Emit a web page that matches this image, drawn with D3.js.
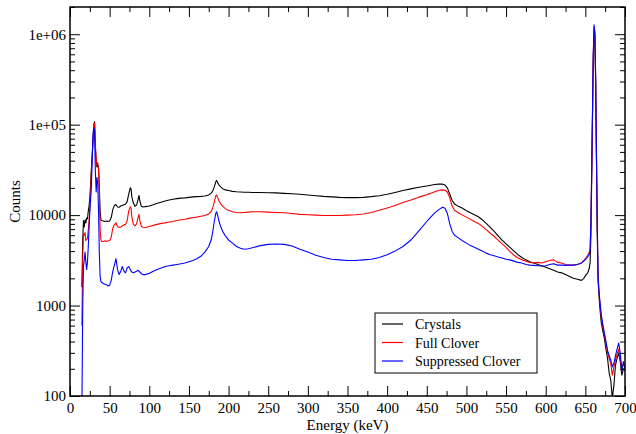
<!DOCTYPE html>
<html>
<head>
<meta charset="utf-8">
<script src="https://cdn.jsdelivr.net/npm/d3@7"></script>
<style>
  html, body { margin: 0; padding: 0; background: #fff; }
  svg { display: block; }
</style>
</head>
<body>
<svg id="chart" width="636" height="434"></svg>
<script>
// Gamma-ray energy spectra (137Cs source): raw crystals, full clover add-back, Compton-suppressed clover
const energy = [
  15,16,17,18,19,20,21,22,23,24,
  25,26,27,28,29,30,31,32,33,34,
  35,36,37,38,39,40,42,44,46,48,
  50,52,54,56,58,60,62,64,66,68,
  70,72,74,76,77,78,80,82,84,86,
  87,88,90,92,95,100,105,110,115,120,
  125,130,135,140,145,150,155,160,165,170,
  175,178,180,182,184,185,186,188,190,193,
  196,200,205,210,215,220,225,230,240,250,
  260,270,280,290,300,310,320,330,340,350,
  360,370,380,390,400,410,420,430,440,450,
  455,460,465,470,473,476,479,482,485,490,
  495,500,505,510,515,520,525,530,535,540,
  545,550,555,560,565,570,575,580,585,590,
  595,600,605,610,615,620,625,630,635,640,
  645,648,651,653,655,656,657,658,659,660,
  661,662,663,664,665,666,667,668,670,672,
  674,676,678,680,682,684,686,688,690,692,
  694,696,698,700
];

const crystals = [
  1600,5200,8700,7400,8900,8200,9300,9100,11000,12500,
  15500,22000,33000,46000,68000,100000,108000,55000,40000,34000,
  36000,33000,21000,11000,8900,8700,8600,8500,8600,8500,
  8600,9400,11500,12800,13100,12300,12200,12600,12800,13000,
  13200,14000,17000,20000,19500,16000,13500,12500,13000,15000,
  16500,14500,12500,12300,12400,12600,13000,13500,13900,14300,
  14700,15000,15200,15400,15500,15700,15900,16000,16100,16300,
  16700,17500,18500,20500,23500,24200,23000,21500,20500,19500,
  19000,18700,18300,18100,18000,17900,17900,17800,17800,17700,
  17600,17400,17200,17000,16700,16400,16100,15900,15700,15600,
  15600,15700,16000,16400,17000,17800,18700,19500,20300,21000,
  21400,21800,22000,22000,21500,20000,17000,14500,13300,12500,
  11900,11200,10600,10100,9600,8900,8100,7300,6600,5900,
  5300,4800,4400,4000,3650,3400,3200,3050,2950,2850,
  2750,2650,2550,2450,2350,2300,2200,2100,2000,1950,
  1900,2000,2200,2300,2600,3000,6000,25000,120000,550000,
  1100000,950000,280000,40000,6000,1900,1400,1000,650,520,
  430,330,260,180,150,95,130,220,260,300,
  240,170,200,190
];

const fullClover = [
  600,3200,6200,6000,6400,5200,5400,5500,6800,8500,
  12000,18000,30000,45000,65000,98000,105000,60000,42000,36000,
  38000,32000,17000,7000,5300,5100,5100,5200,5100,5200,
  5200,5700,7200,7800,8200,7500,7300,7400,7600,7800,
  7900,8600,11000,12400,12000,9500,7900,7600,8000,9500,
  10200,8800,7500,7350,7300,7500,7700,7900,8100,8200,
  8400,8500,8700,8900,9000,9200,9400,9500,9700,9900,
  10300,11000,12000,14000,16500,16700,15800,14300,13300,12400,
  11800,11300,10900,10700,10600,10700,10800,10900,10900,10800,
  10700,10600,10400,10200,10100,10000,9900,9900,9900,10000,
  10100,10300,10700,11300,12000,12800,13800,14700,15800,16800,
  17400,18100,18700,19000,18800,18000,15500,12600,11300,10600,
  10000,9500,9000,8500,8100,7500,6900,6300,5800,5300,
  4800,4400,3950,3600,3350,3200,3100,3000,2950,3000,
  2950,3050,3150,3200,3000,2950,2850,2800,2800,2850,
  2950,3150,3400,3600,3900,4200,8000,30000,130000,580000,
  1200000,1000000,320000,45000,8000,2200,1500,1150,750,580,
  470,380,300,260,230,170,210,250,290,330,
  260,200,230,210
];

const suppressedClover = [
  70,900,2700,3200,3900,3000,2500,3000,4400,7000,
  11000,15000,21000,40000,75000,92000,88000,30000,18000,26000,
  22000,11000,3800,2100,1850,1800,1750,1720,1700,1650,
  1680,1900,2400,2800,3300,2500,2200,2400,2700,2400,
  2300,2600,2700,2500,2400,2350,2300,2350,2400,2450,
  2400,2350,2250,2200,2200,2270,2400,2500,2600,2700,
  2750,2800,2850,2900,2950,3050,3150,3300,3500,3900,
  4500,5300,6500,8500,10500,10900,10200,8500,7500,6500,
  5900,5300,4900,4500,4300,4200,4250,4350,4600,4750,
  4800,4750,4550,4200,3900,3600,3400,3250,3200,3150,
  3150,3200,3250,3400,3650,4000,4500,5300,6700,8500,
  9500,10600,11500,12200,11900,10400,8000,6600,6000,5600,
  5200,4900,4600,4400,4200,4000,3800,3650,3550,3450,
  3350,3250,3200,3100,3000,2950,2850,2800,2780,2760,
  2740,2760,2850,2900,2800,2800,2780,2800,2800,2850,
  2950,3100,3300,3450,3700,4000,8500,32000,140000,620000,
  1270000,1050000,340000,48000,9000,2200,1500,1200,800,620,
  500,400,320,280,250,210,230,280,330,385,
  300,190,240,200
];

const seriesNames = ["Crystals", "Full Clover", "Suppressed Clover"];
const seriesColors = ["#000000", "#ff0000", "#0000ff"];
const seriesValues = [crystals, fullClover, suppressedClover];

const xTicks = [0,50,100,150,200,250,300,350,400,450,500,550,600,650,700];
const yTickValues = [100, 1000, 10000, 100000, 1000000];
const yTickLabels = ["100", "1000", "10000", "1e+05", "1e+06"];

const FONT = "'Times New Roman', 'Liberation Serif', 'DejaVu Serif', serif";

const svg = d3.select("#chart");
const margin = { left: 70, right: 11, top: 7, bottom: 38 };
const W = 636, H = 434;
const x0 = margin.left, x1 = W - margin.right;
const y0 = H - margin.bottom, y1 = margin.top;

const x = d3.scaleLinear().domain([0, 700]).range([x0, x1]);
const y = d3.scaleLog().domain([100, 2e6]).range([y0, y1]);

svg.append("defs").append("clipPath").attr("id", "plotClip")
  .append("rect").attr("x", x0).attr("y", y1).attr("width", x1 - x0).attr("height", y0 - y1);

// spectra
const line = d3.line().x(d => x(d[0])).y(d => y(Math.max(d[1], 1)));
const plot = svg.append("g").attr("clip-path", "url(#plotClip)");
seriesValues.forEach((vals, i) => {
  const pts = energy.map((e, k) => [e, vals[k]]).filter(p => p[1] !== undefined);
  plot.append("path")
    .datum(pts)
    .attr("fill", "none")
    .attr("stroke", seriesColors[i])
    .attr("stroke-width", 1.1)
    .attr("stroke-linejoin", "round")
    .attr("d", line);
});

// axes: ticks pointing inward on all four sides
const xMinor = d3.range(25, 700, 50);
const yMinor = [];
for (let dec = 100; dec < 2e6; dec *= 10) {
  for (let m = 2; m <= 9; m++) { const v = dec * m; if (v <= 2e6) yMinor.push(v); }
}
const major = 10, minor = 5;

function addAxis(axis, transform) {
  const g = svg.append("g").attr("transform", transform).call(axis);
  g.attr("font-family", FONT);
  g.select(".domain").remove();
  g.selectAll("line").attr("stroke", "#000").attr("stroke-width", 1);
  return g;
}

// bottom
const gxb = addAxis(d3.axisBottom(x).tickValues(xTicks).tickSize(-major).tickPadding(6)
  .tickFormat(d3.format("d")), `translate(0,${y0})`);
gxb.selectAll("text").style("font-family", FONT).attr("font-size", 15).attr("fill", "#000");
addAxis(d3.axisBottom(x).tickValues(xMinor).tickSize(-minor).tickFormat(""), `translate(0,${y0})`);
// top
addAxis(d3.axisTop(x).tickValues(xTicks).tickSize(-major).tickFormat(""), `translate(0,${y1})`);
addAxis(d3.axisTop(x).tickValues(xMinor).tickSize(-minor).tickFormat(""), `translate(0,${y1})`);
// left
const gyl = addAxis(d3.axisLeft(y).tickValues(yTickValues).tickSize(-major).tickPadding(4)
  .tickFormat((d, i) => yTickLabels[i]), `translate(${x0},0)`);
gyl.selectAll("text").style("font-family", FONT).attr("font-size", 15).attr("fill", "#000");
addAxis(d3.axisLeft(y).tickValues(yMinor).tickSize(-minor).tickFormat(""), `translate(${x0},0)`);
// right
addAxis(d3.axisRight(y).tickValues(yTickValues).tickSize(-major).tickFormat(""), `translate(${x1},0)`);
addAxis(d3.axisRight(y).tickValues(yMinor).tickSize(-minor).tickFormat(""), `translate(${x1},0)`);

// frame
svg.append("rect")
  .attr("x", x0).attr("y", y1).attr("width", x1 - x0).attr("height", y0 - y1)
  .attr("fill", "none").attr("stroke", "#000").attr("stroke-width", 1.5);

// axis titles
svg.append("text").attr("x", (x0 + x1) / 2).attr("y", 430)
  .style("font-family", FONT)
  .attr("text-anchor", "middle").attr("font-size", 15).text("Energy (keV)");
svg.append("text").attr("transform", `translate(20,${(y0 + y1) / 2}) rotate(-90)`)
  .style("font-family", FONT)
  .attr("text-anchor", "middle").attr("font-size", 15).text("Counts");

// legend
const lg = svg.append("g").attr("transform", "translate(375,313)");
lg.append("rect").attr("width", 162).attr("height", 60)
  .attr("fill", "#fff").attr("stroke", "#000").attr("stroke-width", 1);
seriesNames.forEach((name, i) => {
  const cy = 11 + i * 18.5;
  lg.append("line").attr("x1", 7).attr("x2", 28).attr("y1", cy).attr("y2", cy)
    .attr("stroke", seriesColors[i]).attr("stroke-width", 1.2);
  lg.append("text").attr("x", 40).attr("y", cy + 5)
    .style("font-family", FONT).attr("font-size", 14).text(name);
});
</script>
</body>
</html>
